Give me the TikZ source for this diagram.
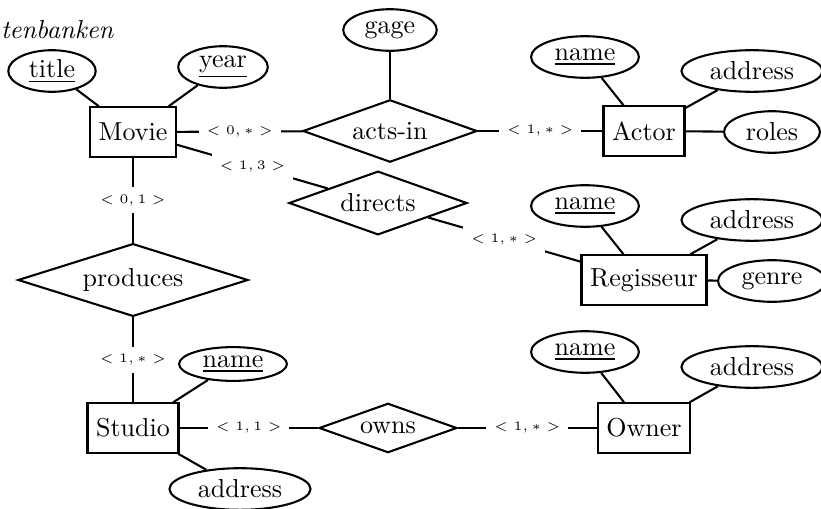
\documentclass[tikz,border=0pt]{standalone}
\usetikzlibrary{shapes.geometric}
\begin{document}
\begin{tikzpicture}[x=0.3846pt, y=-0.3846pt, thick,
  entity/.style={draw, rectangle, minimum height=19pt},
  attr/.style={draw, ellipse, inner xsep=3pt, inner ysep=0pt, minimum height=16pt},
  rel/.style={draw, diamond, aspect=3, inner sep=0pt},
  card/.style={fill=white, font=\tiny, inner sep=3pt}]
  \useasboundingbox (0,0) rectangle (821,509);
  \node[anchor=base west, inner sep=0pt] (heading) at (0,38) {\textit{tenbanken}};
  % entities
  \node[entity] (movie) at (133,132) {Movie};
  \node[entity] (actor) at (644,131) {Actor};
  \node[entity] (regisseur) at (644,280) {Regisseur};
  \node[entity] (studio) at (133,428) {Studio};
  \node[entity] (owner) at (644,428) {Owner};
  % relationships
  \node[rel, minimum width=67pt, minimum height=24pt] (actsin) at (390,131) {acts-in};
  \node[rel, minimum width=68.5pt, minimum height=24.5pt] (directs) at (378,203) {directs};
  \node[rel, minimum width=88.5pt, minimum height=28pt] (produces) at (133,280) {produces};
  \node[rel, minimum width=53pt, minimum height=19pt] (owns) at (388,428) {owns};
  % attributes
  \node[attr] (title) at (52,71) {\underline{title}};
  \node[attr] (year) at (223,67) {\underline{year}};
  \node[attr] (gage) at (390,30) {gage};
  \node[attr] (actorname) at (585,57) {\underline{name}};
  \node[attr] (actoraddr) at (752,71) {address};
  \node[attr] (roles) at (772,132) {roles};
  \node[attr] (regname) at (585,206) {\underline{name}};
  \node[attr] (regaddr) at (752,220) {address};
  \node[attr] (genre) at (772,281) {genre};
  \node[attr, minimum height=13pt] (studioname) at (233,364) {\underline{name}};
  \node[attr] (studioaddr) at (240,489) {address};
  \node[attr] (ownername) at (585,352) {\underline{name}};
  \node[attr] (owneraddr) at (752,367) {address};
  % attribute lines
  \draw (title) -- (movie);
  \draw (year) -- (movie);
  \draw (gage) -- (actsin);
  \draw (actorname) -- (actor);
  \draw (actoraddr) -- (actor);
  \draw (roles) -- (actor);
  \draw (regname) -- (regisseur);
  \draw (regaddr) -- (regisseur);
  \draw (genre) -- (regisseur);
  \draw (studioname) -- (studio);
  \draw (studioaddr) -- (studio);
  \draw (ownername) -- (owner);
  \draw (owneraddr) -- (owner);
  % relationship lines
  \draw (movie) -- node[card] {$<0,*>$} (actsin);
  \draw (actsin) -- node[card] {$<1,*>$} (actor);
  \draw (movie) -- node[card] {$<1,3>$} (directs);
  \draw (directs) -- node[card] {$<1,*>$} (regisseur);
  \draw (movie) -- node[card] {$<0,1>$} (produces);
  \draw (produces) -- node[card] {$<1,*>$} (studio);
  \draw (studio) -- node[card] {$<1,1>$} (owns);
  \draw (owns) -- node[card] {$<1,*>$} (owner);
\end{tikzpicture}
\end{document}
